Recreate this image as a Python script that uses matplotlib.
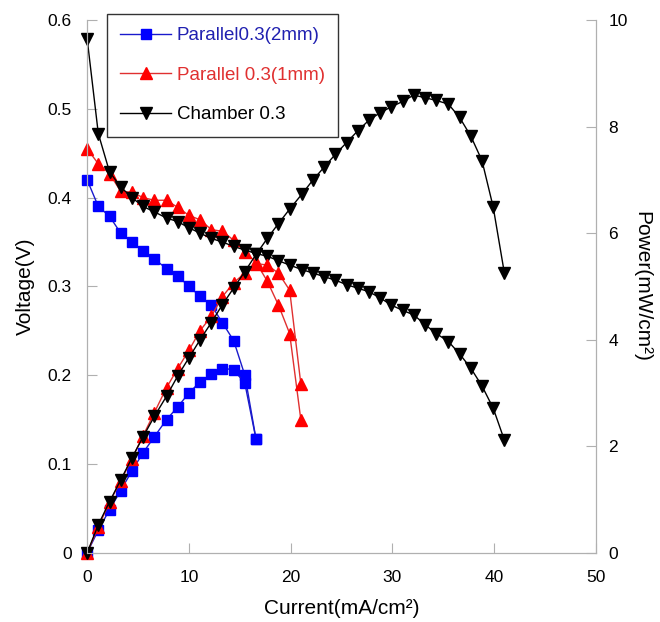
import matplotlib
matplotlib.use("Agg")
import matplotlib.pyplot as plt

plt.rcParams['font.family'] = ['Liberation Sans', 'DejaVu Sans']

# Parallel 0.3 (2mm)
cur_p2 = [0, 1.1, 2.2, 3.3, 4.4, 5.5, 6.6, 7.8, 8.9, 10.0, 11.1, 12.2, 13.3, 14.4, 15.5, 16.6]
volt_p2 = [0.42, 0.39, 0.379, 0.36, 0.35, 0.34, 0.331, 0.32, 0.312, 0.30, 0.289, 0.279,
           0.259, 0.239, 0.20, 0.128]
pow_p2 = [0, 0.43, 0.81, 1.17, 1.54, 1.88, 2.18, 2.50, 2.74, 3.0, 3.21, 3.36, 3.46, 3.44,
          3.18, 2.13]

# Parallel 0.3 (1mm)
cur_p1 = [0, 1.1, 2.2, 3.3, 4.4, 5.5, 6.6, 7.8, 8.9, 10.0, 11.1, 12.2, 13.3, 14.4, 15.5,
          16.6, 17.7, 18.8, 19.9, 21.0]
volt_p1 = [0.455, 0.438, 0.427, 0.407, 0.406, 0.400, 0.397, 0.397, 0.389, 0.380, 0.375,
           0.364, 0.362, 0.352, 0.339, 0.327, 0.306, 0.279, 0.247, 0.150]
pow_p1 = [0, 0.49, 0.95, 1.35, 1.77, 2.2, 2.63, 3.1, 3.46, 3.8, 4.17, 4.44, 4.81, 5.07,
          5.25, 5.43, 5.4, 5.25, 4.93, 3.17]

# Chamber 0.3
cur_ch = [0, 1.1, 2.2, 3.3, 4.4, 5.5, 6.6, 7.8, 8.9, 10.0, 11.1, 12.2, 13.3, 14.4, 15.5,
          16.6, 17.7, 18.8, 19.9, 21.1, 22.2, 23.3, 24.4, 25.5, 26.6, 27.7, 28.8, 29.9,
          31.0, 32.1, 33.2, 34.3, 35.5, 36.6, 37.7, 38.8, 39.9, 41.0]
volt_ch = [0.579, 0.472, 0.429, 0.412, 0.400, 0.390, 0.384, 0.377, 0.373, 0.366, 0.360,
           0.354, 0.350, 0.345, 0.341, 0.337, 0.334, 0.329, 0.324, 0.319, 0.315, 0.311,
           0.307, 0.302, 0.298, 0.294, 0.287, 0.279, 0.273, 0.268, 0.257, 0.247, 0.238,
           0.224, 0.208, 0.188, 0.163, 0.127]
pow_ch = [0, 0.53, 0.96, 1.37, 1.78, 2.18, 2.56, 2.94, 3.32, 3.66, 4.0, 4.32, 4.66, 4.97,
          5.28, 5.6, 5.9, 6.18, 6.45, 6.73, 7.0, 7.24, 7.48, 7.7, 7.92, 8.12, 8.26, 8.37,
          8.47, 8.59, 8.54, 8.49, 8.42, 8.17, 7.82, 7.36, 6.49, 5.25]

labels = ['Parallel0.3(2mm)', 'Parallel 0.3(1mm)', 'Chamber 0.3']

fig = plt.figure(figsize=(6.6, 6.22), dpi=100)
ax = fig.add_axes([0.132, 0.111, 0.771, 0.857])
ax2 = ax.twinx()

spine_col = '#b0b0b0'

styles = [
    dict(color='#1a1acc', marker='s', mfc='#0000ff', mec='#0000ff', ms=7.5),
    dict(color='#e03030', marker='^', mfc='#ff0000', mec='#ff0000', ms=8),
    dict(color='black', marker='v', mfc='black', mec='black', ms=8),
]

series = [(cur_p2, volt_p2, pow_p2), (cur_p1, volt_p1, pow_p1), (cur_ch, volt_ch, pow_ch)]
handles = []
for (c, v, p), st, lab in zip(series, styles, labels):
    h, = ax.plot(c, v, lw=1.0, label=lab, clip_on=False, **st)
    ax2.plot(c, p, lw=1.0, clip_on=False, **st)
    handles.append(h)

ax.set_xlim(0, 50)
ax.set_ylim(0, 0.6)
ax2.set_ylim(0, 10)
ax.set_xticks([0, 10, 20, 30, 40, 50])
ax.set_yticks([0, 0.1, 0.2, 0.3, 0.4, 0.5, 0.6])
ax.set_yticklabels(['0', '0.1', '0.2', '0.3', '0.4', '0.5', '0.6'])
ax2.set_yticks([0, 2, 4, 6, 8, 10])

for a in (ax, ax2):
    a.spines['top'].set_visible(False)
    for s in ('left', 'right', 'bottom'):
        a.spines[s].set_color(spine_col)
    a.tick_params(direction='in', length=7, color=spine_col, labelsize=12.5)
ax.tick_params(axis='x', pad=12)
ax.tick_params(axis='y', pad=11)
ax2.tick_params(axis='y', pad=9)

ax.set_xlabel('Current(mA/cm²)', fontsize=15, labelpad=10)
ax.set_ylabel('Voltage(V)', fontsize=15, labelpad=9)
ax2.set_ylabel('Power(mW/cm²)', fontsize=15, rotation=270, labelpad=17)

ax2.set_zorder(ax.get_zorder() + 1)
ax2.patch.set_visible(False)

leg = ax2.legend(handles, labels, loc='upper left', bbox_to_anchor=(0.039, 1.012),
                 fontsize=13.5, frameon=True, fancybox=False, handlelength=2.7,
                 labelspacing=1.2, borderpad=0.72, handletextpad=0.3, borderaxespad=0)
leg.get_frame().set_edgecolor('black')
leg.get_frame().set_linewidth(1.0)
for t, col in zip(leg.get_texts(), ['#2020b0', '#e03030', 'black']):
    t.set_color(col)

fig.savefig('out.png', dpi=100)
